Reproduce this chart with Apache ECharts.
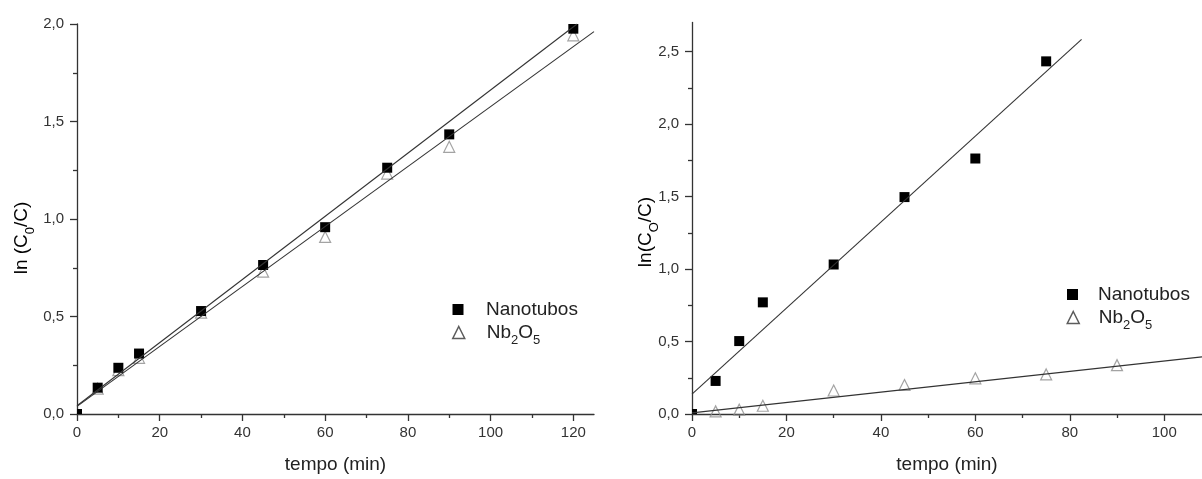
<!DOCTYPE html>
<html>
<head>
<meta charset="utf-8">
<script src="https://cdn.jsdelivr.net/npm/echarts@6/dist/echarts.min.js"></script>
<style>
html,body{margin:0;padding:0;background:#fff;}
#c{width:1202px;height:479px;}
</style>
</head>
<body>
<div id="c"></div>
<script>
// ---------- data ----------
// Left panel
const timeNanoLeft = [0, 5, 10, 15, 30, 45, 60, 75, 90, 120];
const nanoLeft     = [0.0, 0.135, 0.237, 0.31, 0.528, 0.764, 0.958, 1.263, 1.434, 1.976];
const timeNbLeft   = [5, 10, 15, 30, 45, 60, 75, 90, 120];
const nbLeft       = [0.13, 0.225, 0.288, 0.52, 0.73, 0.908, 1.233, 1.37, 1.942];
// fitted lines (end points)
const fitNanoLeftT = [0, 120.9];
const fitNanoLeftV = [0.042, 2.0];
const fitNbLeftT   = [0, 125];
const fitNbLeftV   = [0.039, 1.961];

// Right panel
const timeNanoRight = [0, 5, 10, 15, 30, 45, 60, 75];
const nanoRight     = [0.0, 0.228, 0.503, 0.77, 1.031, 1.496, 1.762, 2.432];
const timeNbRight   = [5, 10, 15, 30, 45, 60, 75, 90];
const nbRight       = [0.018, 0.03, 0.057, 0.162, 0.2, 0.246, 0.273, 0.337];
const fitNanoRightT = [0, 82.5];
const fitNanoRightV = [0.137, 2.584];
const fitNbRightT   = [0, 108];
const fitNbRightV   = [0.008, 0.394];

// ticks
const xTicksLeft  = [0, 20, 40, 60, 80, 100, 120];
const xMinorLeft  = [10, 30, 50, 70, 90, 110];
const yTicksLeft  = [0, 0.5, 1.0, 1.5, 2.0];
const yMinorLeft  = [0.25, 0.75, 1.25, 1.75];
const xTicksRight = [0, 20, 40, 60, 80, 100];
const xMinorRight = [10, 30, 50, 70, 90];
const yTicksRight = [0, 0.5, 1.0, 1.5, 2.0, 2.5];
const yMinorRight = [0.25, 0.75, 1.25, 1.75, 2.25];

// ---------- helpers ----------
const FONT = '"Liberation Sans", Arial, sans-serif';
const AX = '#333';
const zip = (a, b) => a.map((v, i) => [v, b[i]]);
const comma = v => Number(v).toFixed(1).replace('.', ',');

function mainX(grid, min, max, ticks, name) {
  return {
    type: 'value', gridIndex: grid, position: 'bottom', min: min, max: max,
    name: name, nameLocation: 'middle', nameGap: 41,
    nameTextStyle: {fontFamily: FONT, fontSize: 19, color: '#222'},
    axisLine: {show: true, onZero: false, lineStyle: {color: AX, width: 1.3}},
    axisTick: {show: true, inside: false, length: 7, customValues: ticks, lineStyle: {color: AX, width: 1.3}},
    axisLabel: {show: true, customValues: ticks, margin: 11, fontFamily: FONT, fontSize: 15, color: '#333',
      formatter: v => String(Math.round(v))},
    splitLine: {show: false}
  };
}
function minorX(grid, min, max, ticks) {
  return {
    type: 'value', gridIndex: grid, position: 'bottom', min: min, max: max,
    axisLine: {show: false},
    axisTick: {show: true, inside: false, length: 4, customValues: ticks, lineStyle: {color: AX, width: 1.3}},
    axisLabel: {show: false}, splitLine: {show: false}
  };
}
function mainY(grid, min, max, ticks) {
  return {
    type: 'value', gridIndex: grid, position: 'left', min: min, max: max,
    axisLine: {show: true, onZero: false, lineStyle: {color: AX, width: 1.3}},
    axisTick: {show: true, inside: false, length: 7, customValues: ticks, lineStyle: {color: AX, width: 1.3}},
    axisLabel: {show: true, customValues: ticks, margin: 13, fontFamily: FONT, fontSize: 15, color: '#333',
      formatter: comma},
    splitLine: {show: false}
  };
}
function minorY(grid, min, max, ticks) {
  return {
    type: 'value', gridIndex: grid, position: 'left', min: min, max: max,
    axisLine: {show: false},
    axisTick: {show: true, inside: false, length: 4, customValues: ticks, lineStyle: {color: AX, width: 1.3}},
    axisLabel: {show: false}, splitLine: {show: false}
  };
}
function triSeries(name, xi, yi, data) {
  return {
    name: name, type: 'scatter', xAxisIndex: xi, yAxisIndex: yi, data: data,
    symbol: 'triangle', symbolSize: 11, z: 3, silent: true,
    itemStyle: {color: 'rgba(255,255,255,0)', borderColor: '#8c8c8c', borderWidth: 1.2}
  };
}
// filled squares drawn through the axes and clipped to the plot area (as in the original)
function sqSeries(name, xi, yi, data) {
  const half = 5;
  return {
    name: name, type: 'custom', xAxisIndex: xi, yAxisIndex: yi, data: data,
    z: 4, silent: true, encode: {x: 0, y: 1},
    renderItem: function (params, api) {
      const p = api.coord([api.value(0), api.value(1)]);
      const cs = params.coordSys;
      const r = echarts.graphic.clipRectByRect(
        {x: p[0] - half, y: p[1] - half, width: half * 2, height: half * 2},
        {x: cs.x, y: cs.y, width: cs.width, height: cs.height});
      return r ? {type: 'rect', shape: r, style: {fill: '#000'}} : null;
    }
  };
}
function fitSeries(xi, yi, data) {
  return {
    name: 'fit', type: 'line', xAxisIndex: xi, yAxisIndex: yi, data: data,
    symbol: 'none', z: 5, silent: true, lineStyle: {color: '#333', width: 1.1}
  };
}
function richLegend(gap) {
  return {
    g: {fontFamily: FONT, fontSize: 19, color: '#222', padding: [0, 0, 0, gap]},
    m: {fontFamily: FONT, fontSize: 19, color: '#222'},
    s: {fontFamily: FONT, fontSize: 13, color: '#222', padding: [16, 0, 0, 0]}
  };
}
function legendItem(name, left, top, gap) {
  const isNb = name === 'Nb2O5';
  const size = isNb ? 12 : 11;
  return {
    show: true, orient: 'vertical', left: left, top: top, padding: 0,
    itemWidth: size, itemHeight: size, selectedMode: false,
    data: [isNb
      ? {name: name, icon: 'triangle', itemStyle: {color: 'rgba(255,255,255,0)', borderColor: '#333', borderWidth: 1.5}}
      : {name: name, icon: 'rect', itemStyle: {color: '#000', borderWidth: 0}}],
    formatter: n => n === 'Nb2O5' ? '{g|Nb}{s|2}{m|O}{s|5}' : '{g|' + n + '}',
    textStyle: {fontFamily: FONT, fontSize: 19, color: '#222', rich: richLegend(gap)}
  };
}
const richTitle = {
  a: {fontFamily: FONT, fontSize: 19, color: '#222'},
  s: {fontFamily: FONT, fontSize: 13, color: '#222', padding: [16, 0, 0, 0]}
};

const option = {
  backgroundColor: '#fff',
  animation: false,
  grid: [
    {left: 77, top: 24, width: 517, height: 394, containLabel: false},
    {left: 692, top: 22.5, width: 510, height: 395.2, containLabel: false}
  ],
  xAxis: [
    mainX(0, 0, 125, xTicksLeft, 'tempo (min)'),
    minorX(0, 0, 125, xMinorLeft),
    mainX(1, 0, 108, xTicksRight, 'tempo (min)'),
    minorX(1, 0, 108, xMinorRight)
  ],
  yAxis: [
    mainY(0, 0, 2.0, yTicksLeft),
    minorY(0, 0, 2.0, yMinorLeft),
    mainY(1, 0, 2.7, yTicksRight),
    minorY(1, 0, 2.7, yMinorRight)
  ],
  legend: [
    legendItem('Nanotubos', 452.5, 300, 17.5),
    legendItem('Nb2O5', 452, 323, 17),
    legendItem('Nanotubos', 1067, 285, 15),
    legendItem('Nb2O5', 1066.5, 308, 14.5)
  ],
  graphic: [
    {type: 'text', x: 22, y: 238, rotation: Math.PI / 2, silent: true,
      style: {text: '{a|ln (C}{s|0}{a|/C)}', rich: richTitle, align: 'center', verticalAlign: 'middle'}},
    {type: 'text', x: 646, y: 232, rotation: Math.PI / 2, silent: true,
      style: {text: '{a|ln(C}{s|O}{a|/C)}', rich: richTitle, align: 'center', verticalAlign: 'middle'}}
  ],
  series: [
    triSeries('Nb2O5', 0, 0, zip(timeNbLeft, nbLeft)),
    sqSeries('Nanotubos', 0, 0, zip(timeNanoLeft, nanoLeft)),
    fitSeries(0, 0, zip(fitNanoLeftT, fitNanoLeftV)),
    fitSeries(0, 0, zip(fitNbLeftT, fitNbLeftV)),
    triSeries('Nb2O5', 2, 2, zip(timeNbRight, nbRight)),
    sqSeries('Nanotubos', 2, 2, zip(timeNanoRight, nanoRight)),
    fitSeries(2, 2, zip(fitNanoRightT, fitNanoRightV)),
    fitSeries(2, 2, zip(fitNbRightT, fitNbRightV))
  ]
};
const chart = echarts.init(document.getElementById('c'), null, {renderer: 'canvas'});
chart.setOption(option);
</script>
</body>
</html>
